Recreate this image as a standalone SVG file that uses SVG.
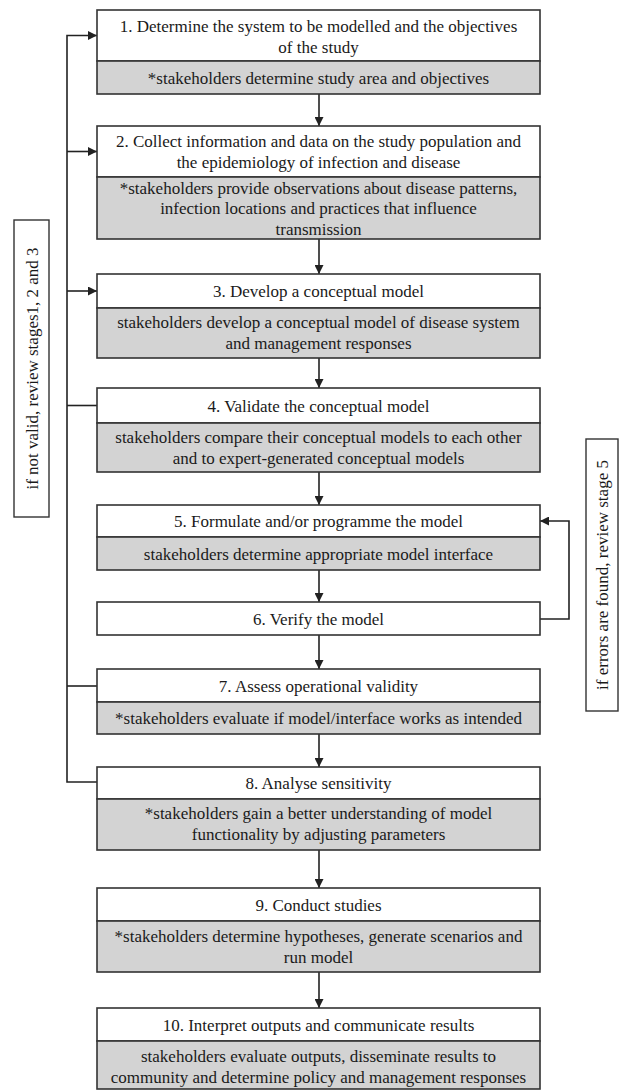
<svg xmlns="http://www.w3.org/2000/svg" width="619" height="1090" viewBox="0 0 619 1090">
<style>
  .w { fill: #ffffff; stroke: #333333; stroke-width: 1.6; }
  .g { fill: #d3d3d3; stroke: #333333; stroke-width: 1.6; }
  .lbl { fill: #ffffff; stroke: #333333; stroke-width: 1.4; }
  text { font-family: "Liberation Serif", "Times New Roman", serif; font-size: 17px; fill: #1a1a1a; text-anchor: middle; }
  .c { fill: none; stroke: #222222; stroke-width: 1.6; }
</style>
<defs>
  <marker id="ah" markerUnits="userSpaceOnUse" markerWidth="9" markerHeight="9" refX="9" refY="4.5" orient="auto">
    <path d="M0,0 L9,4.5 L0,9 z" fill="#222222"/>
  </marker>
</defs>
<rect width="619" height="1090" fill="#ffffff"/>

<g id="connectors">
  <path class="c" d="M319,94 V126" marker-end="url(#ah)"/>
  <path class="c" d="M319,239 V274" marker-end="url(#ah)"/>
  <path class="c" d="M319,358 V388" marker-end="url(#ah)"/>
  <path class="c" d="M319,472 V505" marker-end="url(#ah)"/>
  <path class="c" d="M319,570 V602" marker-end="url(#ah)"/>
  <path class="c" d="M319,635 V669" marker-end="url(#ah)"/>
  <path class="c" d="M319,734 V767" marker-end="url(#ah)"/>
  <path class="c" d="M319,850 V888" marker-end="url(#ah)"/>
  <path class="c" d="M319,972 V1008" marker-end="url(#ah)"/>
  <path class="c" d="M97,782 H67 V35.5 H97" marker-end="url(#ah)"/>
  <path class="c" d="M67,151.5 H97" marker-end="url(#ah)"/>
  <path class="c" d="M67,291 H97" marker-end="url(#ah)"/>
  <path class="c" d="M97,405.5 H67"/>
  <path class="c" d="M97,686 H67"/>
  <path class="c" d="M540,619 H569 V521 H540" marker-end="url(#ah)"/>
</g>

<g id="label-left">
  <rect class="lbl" x="14" y="220" width="35" height="297"/>
  <text transform="translate(37.5,368.5) rotate(-90)">if not valid, review stages1, 2 and 3</text>
</g>
<g id="label-right">
  <rect class="lbl" x="586" y="439" width="32" height="272"/>
  <text transform="translate(608,575) rotate(-90)">if errors are found, review stage 5</text>
</g>

<g id="node1">
  <rect class="w" x="97" y="10" width="443" height="51"/>
  <rect class="g" x="97" y="61" width="443" height="33"/>
  <text x="318.5" y="31.5">1. Determine the system to be modelled and the objectives</text>
  <text x="318.5" y="52.5">of the study</text>
  <text x="318.5" y="83.5">*stakeholders determine study area and objectives</text>
</g>
<g id="node2">
  <rect class="w" x="97" y="126" width="443" height="51"/>
  <rect class="g" x="97" y="177" width="443" height="62"/>
  <text x="318.5" y="147">2. Collect information and data on the study population and</text>
  <text x="318.5" y="168">the epidemiology of infection and disease</text>
  <text x="318.5" y="193.5">*stakeholders provide observations about disease patterns,</text>
  <text x="318.5" y="214">infection locations and practices that influence</text>
  <text x="318.5" y="234.5">transmission</text>
</g>
<g id="node3">
  <rect class="w" x="97" y="274" width="443" height="34"/>
  <rect class="g" x="97" y="308" width="443" height="50"/>
  <text x="318.5" y="297">3. Develop a conceptual model</text>
  <text x="318.5" y="328">stakeholders develop a conceptual model of disease system</text>
  <text x="318.5" y="349">and management responses</text>
</g>
<g id="node4">
  <rect class="w" x="97" y="388" width="443" height="35"/>
  <rect class="g" x="97" y="423" width="443" height="49"/>
  <text x="318.5" y="411.5">4. Validate the conceptual model</text>
  <text x="318.5" y="443">stakeholders compare their conceptual models to each other</text>
  <text x="318.5" y="464">and to expert-generated conceptual models</text>
</g>
<g id="node5">
  <rect class="w" x="97" y="505" width="443" height="32"/>
  <rect class="g" x="97" y="537" width="443" height="33"/>
  <text x="318.5" y="527">5. Formulate and/or programme the model</text>
  <text x="318.5" y="559.5">stakeholders determine appropriate model interface</text>
</g>
<g id="node6">
  <rect class="w" x="97" y="602" width="443" height="33"/>
  <text x="318.5" y="624.5">6. Verify the model</text>
</g>
<g id="node7">
  <rect class="w" x="97" y="669" width="443" height="33"/>
  <rect class="g" x="97" y="702" width="443" height="32"/>
  <text x="318.5" y="691.5">7. Assess operational validity</text>
  <text x="318.5" y="724">*stakeholders evaluate if model/interface works as intended</text>
</g>
<g id="node8">
  <rect class="w" x="97" y="767" width="443" height="32"/>
  <rect class="g" x="97" y="799" width="443" height="51"/>
  <text x="318.5" y="789">8. Analyse sensitivity</text>
  <text x="318.5" y="819">*stakeholders gain a better understanding of model</text>
  <text x="318.5" y="840">functionality by adjusting parameters</text>
</g>
<g id="node9">
  <rect class="w" x="97" y="888" width="443" height="33"/>
  <rect class="g" x="97" y="921" width="443" height="51"/>
  <text x="318.5" y="910.5">9. Conduct studies</text>
  <text x="318.5" y="942">*stakeholders determine hypotheses, generate scenarios and</text>
  <text x="318.5" y="963">run model</text>
</g>
<g id="node10">
  <rect class="w" x="97" y="1008" width="443" height="33"/>
  <rect class="g" x="97" y="1041" width="443" height="48"/>
  <text x="318.5" y="1030.5">10. Interpret outputs and communicate results</text>
  <text x="318.5" y="1062">stakeholders evaluate outputs, disseminate results to</text>
  <text x="318.5" y="1083">community and determine policy and management responses</text>
</g>
</svg>
